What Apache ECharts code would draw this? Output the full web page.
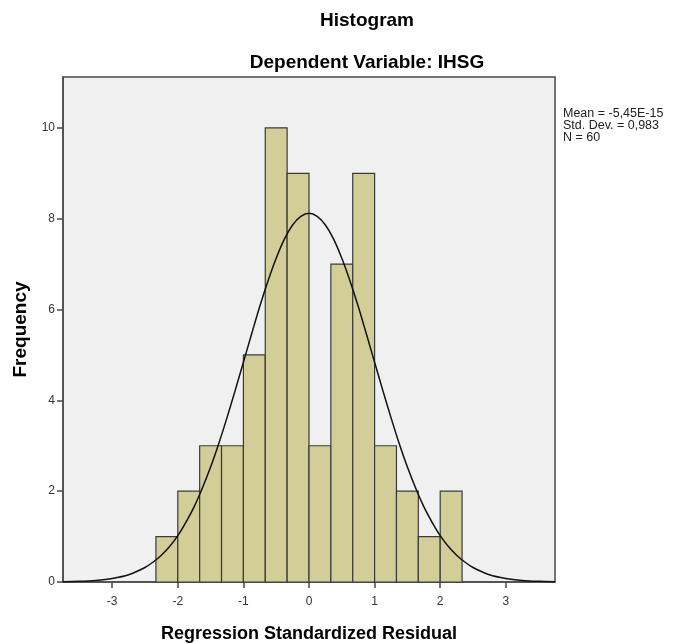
<!DOCTYPE html>
<html><head><meta charset="utf-8">
<script src="https://cdn.jsdelivr.net/npm/echarts@6/dist/echarts.min.js"></script>
<style>html,body{margin:0;padding:0;background:#fff}#c{width:683px;height:644px}</style>
</head><body><div id="c"></div>
<script>
// Histogram bins (lower edge, width 1/3) and frequencies
var binStarts = [-7/3, -2, -5/3, -4/3, -1, -2/3, -1/3, 0, 1/3, 2/3, 1, 4/3, 5/3, 2];
var binWidth = 1/3;
var counts = [1, 2, 3, 3, 5, 10, 9, 3, 7, 9, 3, 2, 1, 2];
// Normal curve points
var curveX = [-3.75,-3.5,-3.25,-3,-2.75,-2.5,-2.375,-2.25,-2.125,-2,-1.875,-1.75,-1.625,-1.5,-1.375,-1.25,-1.125,-1,-0.875,-0.75,-0.625,-0.5,-0.375,-0.25,-0.125,0,0.125,0.25,0.375,0.5,0.625,0.75,0.875,1,1.125,1.25,1.375,1.5,1.625,1.75,1.875,2,2.125,2.25,2.375,2.5,2.75,3,3.25,3.5,3.75];
var curveY = [0.006,0.014,0.034,0.077,0.16,0.32,0.44,0.59,0.78,1.02,1.32,1.66,2.07,2.53,3.05,3.62,4.22,4.84,5.46,6.07,6.63,7.13,7.55,7.86,8.05,8.12,8.05,7.86,7.55,7.13,6.63,6.07,5.46,4.84,4.22,3.62,3.05,2.53,2.07,1.66,1.32,1.02,0.78,0.59,0.44,0.32,0.16,0.077,0.034,0.014,0.006];
var xTicks = [-3, -2, -1, 0, 1, 2, 3];
var yTicks = [0, 2, 4, 6, 8, 10];
var statsLines = ['Mean = -5,45E-15', 'Std. Dev. = 0,983', 'N = 60'];

var chart = echarts.init(document.getElementById('c'), null, {renderer: 'canvas'});
var barData = binStarts.map(function (s, i) { return [s, s + binWidth, counts[i]]; });
var font = 'Arial, "Liberation Sans", sans-serif';
chart.setOption({
  animation: false,
  backgroundColor: '#ffffff',
  title: [
    {text: 'Histogram', left: 362, top: 6, textAlign: 'center',
     textStyle: {fontFamily: font, fontSize: 19, fontWeight: 'bold', color: '#000'}},
    {text: 'Dependent Variable: IHSG', left: 362, top: 48, textAlign: 'center',
     textStyle: {fontFamily: font, fontSize: 19, fontWeight: 'bold', color: '#000'}},
    {text: statsLines.join('\n'), left: 563, top: 108, padding: 0,
     textStyle: {fontFamily: font, fontSize: 12.5, fontWeight: 'normal', color: '#222', lineHeight: 12}}
  ],
  grid: {left: 63, right: 128, top: 77, bottom: 62, show: true, containLabel: false,
         outerBoundsMode: 'none',
         backgroundColor: '#f0f0f0', borderColor: '#4a4a4a', borderWidth: 1.5},
  xAxis: {
    type: 'value', min: -3.75, max: 3.75,
    name: 'Regression Standardized Residual', nameLocation: 'middle', nameGap: 43,
    nameTextStyle: {fontFamily: font, fontSize: 18, fontWeight: 'bold', color: '#000'},
    axisLine: {show: true, onZero: false, lineStyle: {color: '#4a4a4a', width: 1.5}},
    axisTick: {show: true, length: 6, customValues: xTicks, lineStyle: {color: '#4a4a4a', width: 1.5}},
    axisLabel: {customValues: xTicks, fontFamily: font, fontSize: 12, color: '#333', margin: 14},
    splitLine: {show: false}
  },
  yAxis: {
    type: 'value', min: 0, max: 11.12,
    name: 'Frequency', nameLocation: 'middle', nameGap: 33,
    nameTextStyle: {fontFamily: font, fontSize: 19, fontWeight: 'bold', color: '#000'},
    axisLine: {show: true, onZero: false, lineStyle: {color: '#4a4a4a', width: 1.5}},
    axisTick: {show: true, length: 6, customValues: yTicks, lineStyle: {color: '#4a4a4a', width: 1.5}},
    axisLabel: {customValues: yTicks, fontFamily: font, fontSize: 12, color: '#333', margin: 8},
    splitLine: {show: false}
  },
  series: [
    {
      type: 'custom',
      data: barData,
      encode: {x: [0, 1], y: 2},
      renderItem: function (params, api) {
        var p0 = api.coord([api.value(0), 0]);
        var p1 = api.coord([api.value(1), api.value(2)]);
        return {
          type: 'rect',
          shape: {x: p0[0], y: p1[1], width: p1[0] - p0[0], height: p0[1] - p1[1]},
          style: {fill: '#d3ce98', stroke: '#3a3a3a', lineWidth: 1.2}
        };
      },
      z: 2
    },
    {
      type: 'line',
      data: curveX.map(function (x, i) { return [x, curveY[i]]; }),
      smooth: 0.3, showSymbol: false,
      lineStyle: {color: '#111', width: 1.5},
      z: 3
    }
  ]
});
</script></body></html>
